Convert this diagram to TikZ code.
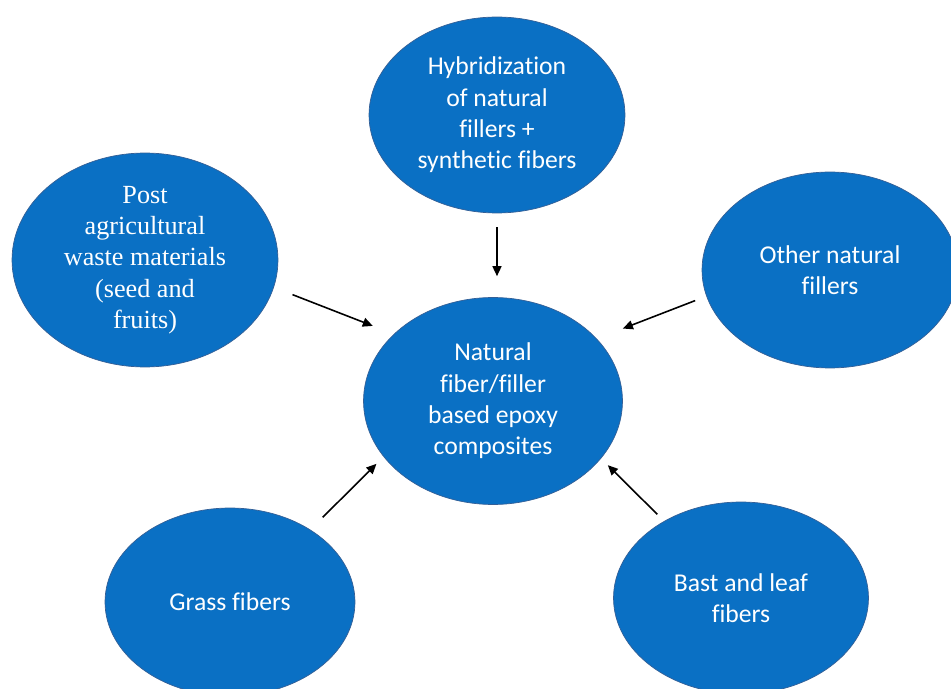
\documentclass[tikz,border=0pt]{standalone}
\usepackage{fontspec}
\setmainfont{Carlito}[Ligatures=NoCommon]
\newfontfamily\timesfont{Liberation Serif}
\usetikzlibrary{shapes.geometric,arrows.meta}
\definecolor{myblue}{RGB}{10,112,196}
\definecolor{myedge}{RGB}{52,95,150}

\begin{document}
\begin{tikzpicture}[x=0.02cm, y=-0.02cm,
	blob/.style={ellipse, draw=myedge, fill=myblue, text=white, inner sep=0pt,
		align=center, font=\fontsize{14.6}{17.8}\selectfont},
	link/.style={->, line width=0.9pt},
	>={Triangle[length=2mm,width=1.8mm]}]

	\useasboundingbox (0,0) rectangle (951,689);

	% ellipses
	\node [blob, minimum width=5.12cm, minimum height=3.92cm] (hyb) at (497,115)
		{Hybridization\\ of natural\\ fillers +\\ synthetic fibers};
	\node [blob, minimum width=5.32cm, minimum height=4.28cm,
		font=\timesfont\fontsize{14.9}{17.8}\selectfont] (post) at (145,260)
		{Post\\ agricultural\\ waste materials\\ (seed and\\ fruits)};
	\node [blob, minimum width=5.12cm, minimum height=3.92cm] (other) at (830,270)
		{Other natural\\ fillers};
	\node [blob, minimum width=5.18cm, minimum height=4.14cm] (comp) at (493,401)
		{Natural\\ fiber/filler\\ based epoxy\\ composites};
	\node [blob, minimum width=5cm, minimum height=3.76cm] (grass) at (230,602)
		{Grass fibers};
	\node [blob, minimum width=5.1cm, minimum height=3.84cm] (bast) at (741,598)
		{Bast and leaf\\ fibers};

	% arrows
	\draw [link, shorten <=0.28cm, shorten >=0.42cm] (hyb.south) -- (hyb.south |- comp.north);
	\draw [link, shorten <=0.4cm, shorten >=0.45cm] (post.-12) -- (comp.146);
	\draw [link, shorten <=0.24cm, shorten >=0.56cm] (other.192) -- (comp.31.6);
	\draw [link, shorten <=0.35cm, shorten >=0.2cm] (grass.42) -- (comp.207);
	\draw [link, shorten <=0.19cm, shorten >=0.19cm] (bast.135) -- (comp.-28);
\end{tikzpicture}
\end{document}
